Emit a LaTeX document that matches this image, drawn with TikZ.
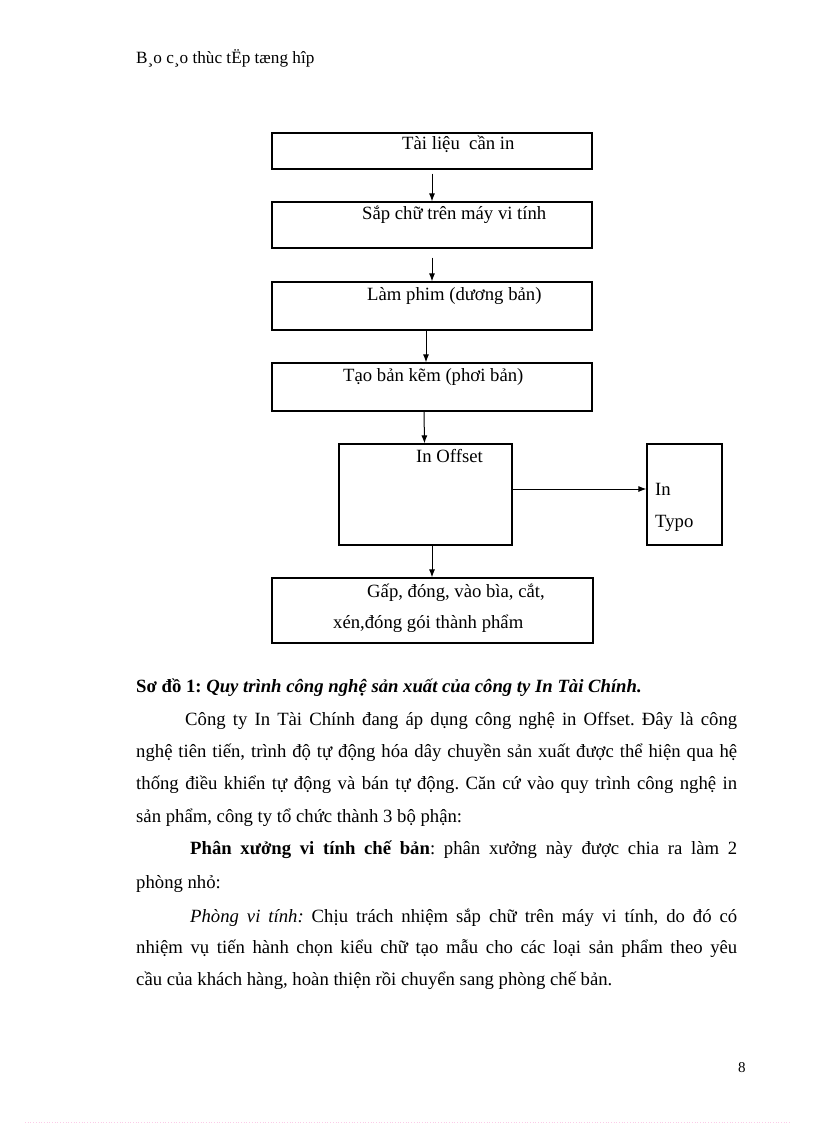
\documentclass[tikz,border=0pt]{standalone}
\usepackage{fontspec}
\setmainfont{Liberation Serif}
\usetikzlibrary{arrows.meta}
\frenchspacing
\begin{document}
\begin{tikzpicture}[x=1pt,y=-1pt,
  box/.style={draw=black,line width=1.2pt,inner sep=0pt,rectangle},
  lbl/.style={inner sep=0pt,anchor=base west,font=\fontsize{18.7}{22}\selectfont},
  txt/.style={inner sep=0pt,anchor=base west,font=\fontsize{18.7}{22}\selectfont},
  arr/.style={draw=black,line width=1pt,-{Latex[length=8pt,width=6pt]}}]
\useasboundingbox[fill=white] (0,0) rectangle (816,1123);

% header
\node[inner sep=0pt,anchor=base west,font=\fontsize{17.2}{20}\selectfont] (hdr) at (136,64) {B¸o c¸o thùc tËp tæng hîp};

% boxes
\node[box,minimum width=320pt,minimum height=36pt] (b1) at (432,151) {};
\node[box,minimum width=320pt,minimum height=46pt] (b2) at (432,225) {};
\node[box,minimum width=320pt,minimum height=48pt] (b3) at (432,306) {};
\node[box,minimum width=320pt,minimum height=48pt] (b4) at (432,387) {};
\node[box,minimum width=173pt,minimum height=101pt] (b5) at (425.5,494.5) {};
\node[box,minimum width=75pt,minimum height=101pt] (b6) at (684.5,494.5) {};
\node[box,minimum width=321pt,minimum height=65pt] (b7) at (432.5,610.5) {};

% box texts
\node[lbl] (t1) at (402,150) {Tài liệu\ \ cần in};
\node[lbl] (t2) at (362,220) {Sắp chữ trên máy vi tính};
\node[lbl] (t3) at (367,300) {Làm phim (dương bản)};
\node[lbl] (t4) at (343,381) {Tạo bản kẽm (phơi bản)};
\node[lbl] (t5) at (416,462) {In Offset};
\node[lbl] (t6a) at (655,495) {In};
\node[lbl] (t6b) at (655,527) {Typo};
\node[lbl] (t7a) at (367,597) {Gấp, đóng, vào bìa, cắt,};
\node[lbl] (t7b) at (333,628) {xén,đóng gói thành phẩm};

% arrows
\draw[arr] ([yshift=-4pt]b1.south) -- (b2.north);
\draw[arr] ([yshift=-9pt]b2.south) -- (b3.north);
\draw[arr] ([xshift=-6pt]b3.south) -- ([xshift=-6pt]b4.north);
\draw[arr] ([xshift=-8pt]b4.south) -- ([xshift=-1pt]b5.north);
\draw[arr] ([xshift=6.5pt]b5.south) -- ([xshift=-0.5pt]b7.north);
\draw[arr] ([yshift=5.5pt]b5.east) -- ([yshift=5.5pt]b5.east -| b6.west);

% caption
\node[txt] (cap) at (136,692) {\textbf{Sơ đồ 1: \textit{Quy trình công nghệ sản xuất của công ty In Tài Chính.}}};

% paragraphs
\node[txt] (p1) at (185,725) {\makebox[552pt][s]{Công ty In Tài Chính đang áp dụng công nghệ in Offset. Đây là công}};
\node[txt] (p2) at (136,757) {\makebox[601pt][s]{nghệ tiên tiến, trình độ tự động hóa dây chuyền sản xuất được thể hiện qua hệ}};
\node[txt] (p3) at (136,789) {\makebox[601pt][s]{thống điều khiển tự động và bán tự động. Căn cứ vào quy trình công nghệ in}};
\node[txt] (p4) at (136,822) {sản phẩm, công ty tổ chức thành 3 bộ phận:};
\node[txt] (p5) at (190,854) {\makebox[547pt][s]{\textbf{Phân xưởng vi tính chế bản}: phân xưởng này được chia ra làm 2}};
\node[txt] (p6) at (136,888) {phòng nhỏ:};
\node[txt] (p7) at (190,922) {\makebox[547pt][s]{\textit{Phòng vi tính:} Chịu trách nhiệm sắp chữ trên máy vi tính, do đó có}};
\node[txt] (p8) at (136,953) {\makebox[601pt][s]{nhiệm vụ tiến hành chọn kiểu chữ tạo mẫu cho các loại sản phẩm theo yêu}};
\node[txt] (p9) at (136,985) {cầu của khách hàng, hoàn thiện rồi chuyển sang phòng chế bản.};

% page number
\node[inner sep=0pt,anchor=base west,font=\fontsize{15}{18}\selectfont] (pg) at (738,1072) {8};

% faint bottom edge
\draw[magenta!20,line width=0.7pt,dotted] (25,1122) -- (790,1122);
\end{tikzpicture}
\end{document}
